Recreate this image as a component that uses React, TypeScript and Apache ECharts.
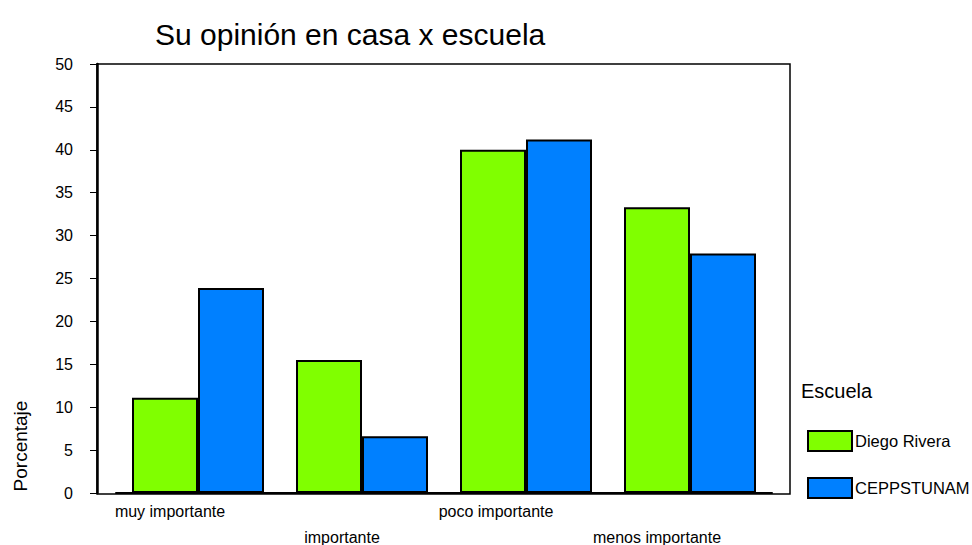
import React, { useEffect, useRef } from "react";
import * as echarts from "echarts";

const categories = ["muy importante", "importante", "poco importante", "menos importante"];
const diegoRivera = [11.1, 15.5, 40.0, 33.3];
const ceppstunam = [23.9, 6.6, 41.2, 27.9];
const seriesNames = ["Diego Rivera", "CEPPSTUNAM"];
const labelShift = [56, 40, 60, 66];

export default function App() {
  const ref = useRef<HTMLDivElement>(null);
  useEffect(() => {
    document.body.style.margin = "0";
    if (!ref.current) return;
    const chart = echarts.init(ref.current, undefined, { renderer: "svg" });
    const font = "Liberation Sans, Arial, sans-serif";
    const rich: any = {};
    labelShift.forEach((s, i) => {
      rich["r" + i] = {
        fontSize: 16,
        fontFamily: font,
        color: "#000",
        padding: [i % 2 === 1 ? 26 : 0, s, 0, 0],
      };
    });
    chart.setOption({
      animation: false,
      backgroundColor: "#fff",
      title: {
        text: "Su opinión en casa x escuela",
        left: 150,
        top: 14,
        textStyle: { fontSize: 30, fontWeight: "normal", fontFamily: font, color: "#000" },
      },
      grid: [
        { left: 116, right: 200, top: 64, bottom: 51 },
        { left: 97, right: 182, top: 64, bottom: 51, show: true, borderColor: "#000", borderWidth: 1.5, backgroundColor: "transparent" },
      ],
      legend: {
        orient: "vertical",
        left: 807,
        top: 430,
        padding: 0,
        itemWidth: 44,
        itemHeight: 20,
        itemGap: 25,
        icon: "rect",
        data: seriesNames,
        textStyle: { fontSize: 16.5, fontFamily: font, color: "#000", padding: [0, 0, 0, -2] },
      },
      xAxis: [
        {
          type: "category",
          gridIndex: 0,
          data: categories,
          axisLine: { lineStyle: { color: "#000", width: 2 } },
          axisTick: { alignWithLabel: true, length: 6, lineStyle: { color: "#000", width: 2 } },
          axisLabel: {
            interval: 0,
            margin: 10,
            formatter: (v: string, i: number) => `{r${i}|${v}}`,
            rich,
          },
        },
        { type: "category", gridIndex: 1, show: false, data: categories },
      ],
      yAxis: [
        {
          type: "value",
          gridIndex: 0,
          min: 0,
          max: 50,
          interval: 5,
          offset: 19,
          axisLine: { show: true, lineStyle: { color: "#000", width: 2.5 } },
          axisTick: { show: true, length: 7, lineStyle: { color: "#000", width: 1 } },
          axisLabel: { margin: 24, fontSize: 16, fontFamily: font, color: "#000" },
          splitLine: { show: false },
        },
        { type: "value", gridIndex: 1, show: false, min: 0, max: 50 },
      ],
      graphic: [
        {
          type: "text",
          x: 801,
          y: 391,
          style: { text: "Escuela", fontSize: 20, fontFamily: font, fill: "#000", textVerticalAlign: "middle" },
        },
        {
          type: "text",
          x: 20,
          y: 446,
          rotation: Math.PI / 2,
          style: { text: "Porcentaje", fontSize: 19, fontFamily: font, fill: "#000", textAlign: "center", textVerticalAlign: "middle" },
        },
      ],
      series: [
        {
          name: seriesNames[0],
          type: "bar",
          data: diegoRivera,
          barWidth: 66,
          barGap: "0%",
          itemStyle: { color: "#80FF00", borderColor: "#000", borderWidth: 2 },
        },
        {
          name: seriesNames[1],
          type: "bar",
          data: ceppstunam,
          barWidth: 66,
          barGap: "0%",
          itemStyle: { color: "#0080FF", borderColor: "#000", borderWidth: 2 },
        },
      ],
    });
    return () => chart.dispose();
  }, []);
  return <div ref={ref} style={{ width: 972, height: 545 }} />;
}
